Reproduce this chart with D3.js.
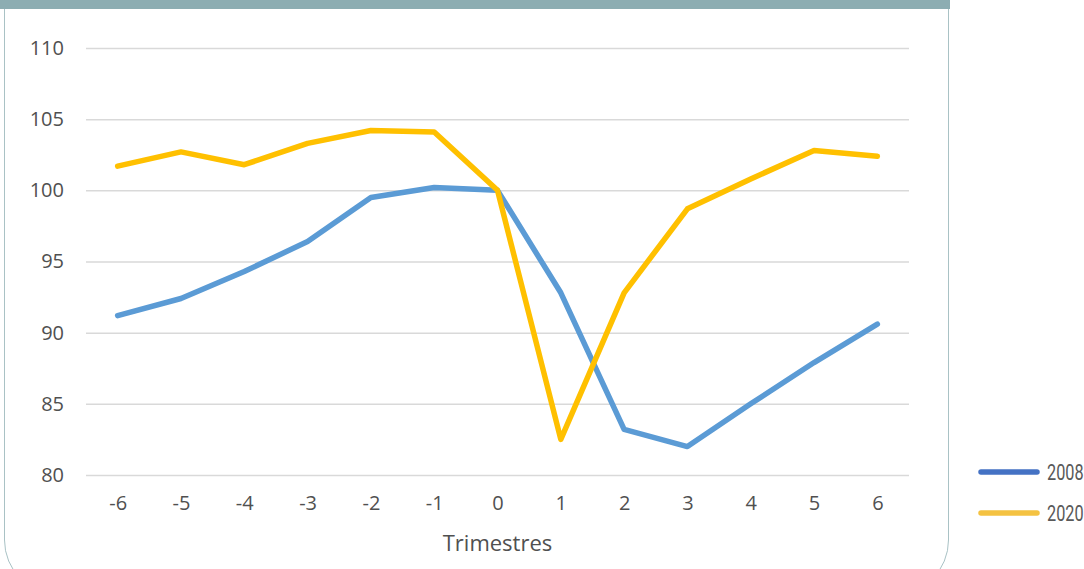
<!DOCTYPE html>
<html>
<head>
<meta charset="utf-8">
<script src="https://cdn.jsdelivr.net/npm/d3@7"></script>
<style>
  html, body { margin: 0; padding: 0; background: #ffffff; }
  svg { display: block; }
</style>
</head>
<body>
<svg id="chart" width="1084" height="569"></svg>
<script>
// ---- data ----
const quarters = [-6, -5, -4, -3, -2, -1, 0, 1, 2, 3, 4, 5, 6];
const series2008 = [91.2, 92.4, 94.3, 96.4, 99.5, 100.2, 100.0, 92.8, 83.2, 82.0, 85.0, 87.9, 90.6];
const series2020 = [101.7, 102.7, 101.8, 103.3, 104.2, 104.1, 100.0, 82.5, 92.8, 98.7, 100.8, 102.8, 102.4];
const yTicks = [80, 85, 90, 95, 100, 105, 110];
const seriesNames = ["2008", "2020"];
const xTitle = "Trimestres";

const lineColors = ["#5B9BD5", "#FFC000"];
const legendColors = ["#4472C4", "#F4C242"];

const svg = d3.select("#chart");

// panel frame
svg.append("rect")
  .attr("x", 4.5).attr("y", -60)
  .attr("width", 944).attr("height", 655)
  .attr("rx", 55).attr("ry", 55)
  .attr("fill", "#ffffff")
  .attr("stroke", "#A9C2C5")
  .attr("stroke-width", 1);
svg.append("rect")
  .attr("x", 0).attr("y", 0)
  .attr("width", 950).attr("height", 9)
  .attr("fill", "#8DADB2");

const x = d3.scalePoint().domain(quarters).range([86, 909]).padding(0.5);
const y = d3.scaleLinear().domain([80, 110]).range([475, 48]);

const font = "'Open Sans', 'Noto Sans', sans-serif";

// y axis + grid
const gy = svg.append("g")
  .attr("transform", "translate(86,0)")
  .call(d3.axisLeft(y).tickValues(yTicks).tickSize(-823).tickPadding(22).tickFormat(d3.format("d")));
gy.select(".domain").remove();
gy.selectAll(".tick line").attr("stroke", "#D9D9D9").attr("stroke-width", 1.5);
gy.selectAll(".tick text")
  .attr("fill", "#505050")
  .style("font-family", font)
  .style("font-size", "20px");

// x axis
const gx = svg.append("g")
  .attr("transform", "translate(0,475)")
  .call(d3.axisBottom(x).tickSize(0).tickPadding(21));
gx.select(".domain").remove();
gx.selectAll(".tick text")
  .attr("fill", "#505050")
  .style("font-family", font)
  .style("font-size", "20px");

svg.append("text")
  .attr("x", x(0)).attr("y", 551)
  .attr("text-anchor", "middle")
  .attr("fill", "#505050")
  .style("font-family", font)
  .style("font-size", "22px")
  .text(xTitle);

// lines
const line = d3.line()
  .x((d, i) => x(quarters[i]))
  .y(d => y(d));

[series2008, series2020].forEach((s, i) => {
  svg.append("path")
    .datum(s)
    .attr("d", line)
    .attr("fill", "none")
    .attr("stroke", lineColors[i])
    .attr("stroke-width", 5.5)
    .attr("stroke-linejoin", "round")
    .attr("stroke-linecap", "round");
});

// legend
const legY = [472, 513];
seriesNames.forEach((name, i) => {
  svg.append("line")
    .attr("x1", 981).attr("x2", 1037)
    .attr("y1", legY[i]).attr("y2", legY[i])
    .attr("stroke", legendColors[i])
    .attr("stroke-width", 5.5)
    .attr("stroke-linecap", "round");
  svg.append("text")
    .attr("transform", `translate(1047,${legY[i] + 8}) scale(0.74,1)`)
    .attr("fill", "#595959")
    .style("font-family", "Roboto, sans-serif")
    .style("font-size", "22px")
    .text(name);
});
</script>
</body>
</html>
